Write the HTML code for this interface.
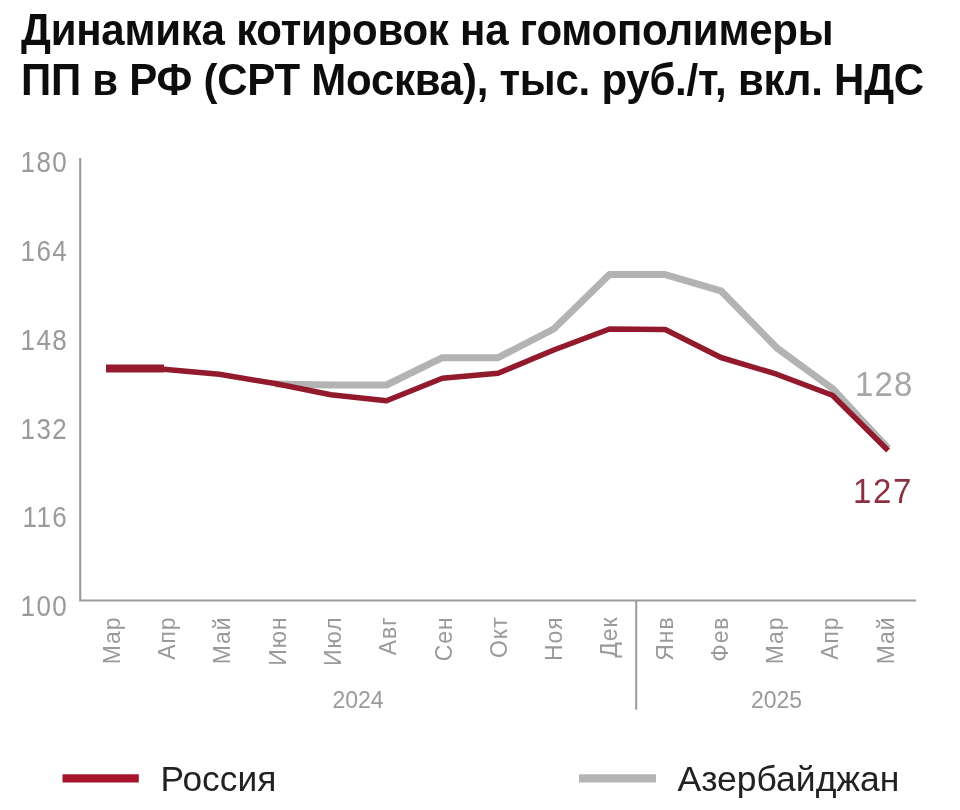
<!DOCTYPE html>
<html><head><meta charset="utf-8"><style>
html,body{margin:0;padding:0;background:#fff;width:960px;height:810px;overflow:hidden}
svg{display:block;filter:blur(0.35px)}
</style></head><body>
<svg width="960" height="810" viewBox="0 0 960 810">
<text transform="translate(21.00,44.60) scale(1,1.045)" font-family="Liberation Sans, sans-serif" font-size="42" fill="#0d0d0d" font-weight="bold" letter-spacing="-0.24">Динамика котировок на гомополимеры</text>
<text transform="translate(21.00,95.20) scale(1,1.045)" font-family="Liberation Sans, sans-serif" font-size="42" fill="#0d0d0d" font-weight="bold" letter-spacing="-0.24">ПП в РФ (СРТ Москва), тыс. руб./т, вкл. НДС</text>
<path d="M80.2,158 V600.5 H916" fill="none" stroke="#9b9b9b" stroke-width="2.1"/>
<path d="M636.2,600 V709.6" fill="none" stroke="#9b9b9b" stroke-width="2"/>
<text transform="translate(68.10,172.20) scale(1,1.12)" font-family="Liberation Sans, sans-serif" font-size="26" fill="#9a9a9a" text-anchor="end" letter-spacing="1.4">180</text>
<text transform="translate(68.10,260.98) scale(1,1.12)" font-family="Liberation Sans, sans-serif" font-size="26" fill="#9a9a9a" text-anchor="end" letter-spacing="1.4">164</text>
<text transform="translate(68.10,349.76) scale(1,1.12)" font-family="Liberation Sans, sans-serif" font-size="26" fill="#9a9a9a" text-anchor="end" letter-spacing="1.4">148</text>
<text transform="translate(68.10,438.54) scale(1,1.12)" font-family="Liberation Sans, sans-serif" font-size="26" fill="#9a9a9a" text-anchor="end" letter-spacing="1.4">132</text>
<text transform="translate(68.10,527.32) scale(1,1.12)" font-family="Liberation Sans, sans-serif" font-size="26" fill="#9a9a9a" text-anchor="end" letter-spacing="1.4">116</text>
<text transform="translate(68.10,616.10) scale(1,1.12)" font-family="Liberation Sans, sans-serif" font-size="26" fill="#9a9a9a" text-anchor="end" letter-spacing="1.4">100</text>
<text transform="translate(119.97,616.50) rotate(-90)" font-family="Liberation Sans, sans-serif" font-size="23" fill="#9a9a9a" text-anchor="end" letter-spacing="0.9">Мар</text>
<text transform="translate(175.23,616.50) rotate(-90)" font-family="Liberation Sans, sans-serif" font-size="23" fill="#9a9a9a" text-anchor="end" letter-spacing="0.9">Апр</text>
<text transform="translate(230.48,616.50) rotate(-90)" font-family="Liberation Sans, sans-serif" font-size="23" fill="#9a9a9a" text-anchor="end" letter-spacing="0.9">Май</text>
<text transform="translate(285.74,616.50) rotate(-90)" font-family="Liberation Sans, sans-serif" font-size="23" fill="#9a9a9a" text-anchor="end" letter-spacing="0.9">Июн</text>
<text transform="translate(341.00,616.50) rotate(-90)" font-family="Liberation Sans, sans-serif" font-size="23" fill="#9a9a9a" text-anchor="end" letter-spacing="0.9">Июл</text>
<text transform="translate(396.25,616.50) rotate(-90)" font-family="Liberation Sans, sans-serif" font-size="23" fill="#9a9a9a" text-anchor="end" letter-spacing="0.9">Авг</text>
<text transform="translate(451.51,616.50) rotate(-90)" font-family="Liberation Sans, sans-serif" font-size="23" fill="#9a9a9a" text-anchor="end" letter-spacing="0.9">Сен</text>
<text transform="translate(506.77,616.50) rotate(-90)" font-family="Liberation Sans, sans-serif" font-size="23" fill="#9a9a9a" text-anchor="end" letter-spacing="0.9">Окт</text>
<text transform="translate(562.03,616.50) rotate(-90)" font-family="Liberation Sans, sans-serif" font-size="23" fill="#9a9a9a" text-anchor="end" letter-spacing="0.9">Ноя</text>
<text transform="translate(617.28,616.50) rotate(-90)" font-family="Liberation Sans, sans-serif" font-size="23" fill="#9a9a9a" text-anchor="end" letter-spacing="0.9">Дек</text>
<text transform="translate(672.54,616.50) rotate(-90)" font-family="Liberation Sans, sans-serif" font-size="23" fill="#9a9a9a" text-anchor="end" letter-spacing="0.9">Янв</text>
<text transform="translate(727.80,616.50) rotate(-90)" font-family="Liberation Sans, sans-serif" font-size="23" fill="#9a9a9a" text-anchor="end" letter-spacing="0.9">Фев</text>
<text transform="translate(783.05,616.50) rotate(-90)" font-family="Liberation Sans, sans-serif" font-size="23" fill="#9a9a9a" text-anchor="end" letter-spacing="0.9">Мар</text>
<text transform="translate(838.31,616.50) rotate(-90)" font-family="Liberation Sans, sans-serif" font-size="23" fill="#9a9a9a" text-anchor="end" letter-spacing="0.9">Апр</text>
<text transform="translate(893.57,616.50) rotate(-90)" font-family="Liberation Sans, sans-serif" font-size="23" fill="#9a9a9a" text-anchor="end" letter-spacing="0.9">Май</text>
<text transform="translate(358.00,707.50)" font-family="Liberation Sans, sans-serif" font-size="23" fill="#9a9a9a" text-anchor="middle" >2024</text>
<text transform="translate(776.50,707.50)" font-family="Liberation Sans, sans-serif" font-size="23" fill="#9a9a9a" text-anchor="middle" >2025</text>
<polyline points="275.1,384.0 330.8,385.0 386.5,385.0 442.3,357.7 498.0,357.7 553.7,329.0 609.5,274.6 665.2,274.6 720.9,290.8 776.7,347.8 832.4,388.5 888.1,448.5" fill="none" stroke="#b3b3b3" stroke-width="7" stroke-linejoin="round"/>
<polyline points="107.9,368.5 163.6,369.3 219.3,374.3 275.1,383.5 330.8,394.7 386.5,400.8 442.3,378.3 498.0,373.3 553.7,350.0 609.5,329.0 665.2,329.5 720.9,357.5 776.7,374.2 832.4,395.2 888.1,450.5" fill="none" stroke="#921a2c" stroke-width="5.5" stroke-linejoin="round"/>
<rect x="106" y="364.5" width="58" height="8" fill="#961a2d"/>
<text transform="translate(855.00,395.50) scale(1,1.05)" font-family="Liberation Sans, sans-serif" font-size="33" fill="#a6a6a6" letter-spacing="1.2">128</text>
<text transform="translate(853.00,503.40) scale(1,1.07)" font-family="Liberation Sans, sans-serif" font-size="33" fill="#8a3040" letter-spacing="1.6">127</text>
<rect x="62.5" y="774.3" width="76.3" height="8.2" fill="#a5142a"/>
<text transform="translate(160.50,790.70)" font-family="Liberation Sans, sans-serif" font-size="35.3" fill="#222" >Россия</text>
<rect x="579" y="774.3" width="77" height="8.2" fill="#b4b4b4"/>
<text transform="translate(677.50,790.70)" font-family="Liberation Sans, sans-serif" font-size="35.5" fill="#222" >Азербайджан</text>
</svg>
</body></html>
